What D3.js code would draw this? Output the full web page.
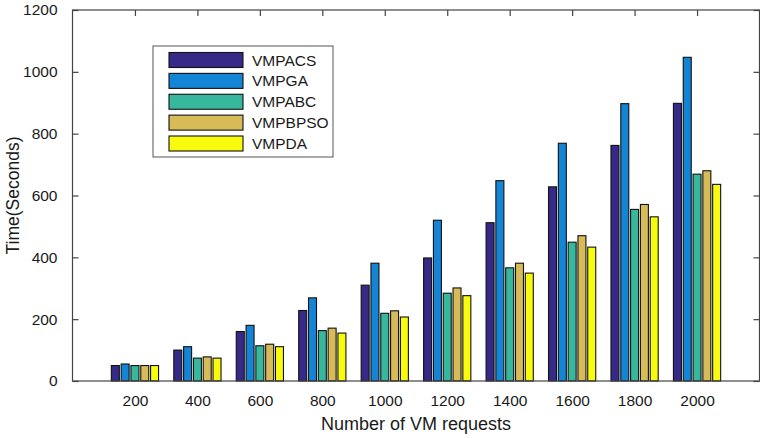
<!DOCTYPE html>
<html>
<head>
<meta charset="utf-8">
<script src="https://cdn.jsdelivr.net/npm/d3@7"></script>
<style>
  body { margin: 0; background: #fff; }
  svg { font-family: "Liberation Sans", Arial, sans-serif; }
</style>
</head>
<body>
<div class="container"></div>
<script>
// data
const categories = [200, 400, 600, 800, 1000, 1200, 1400, 1600, 1800, 2000]
const seriesNames = ["VMPACS", "VMPGA", "VMPABC", "VMPBPSO", "VMPDA"]
const VMPACS = [50, 100, 160, 228, 310, 398, 512, 628, 762, 898]
const VMPGA = [55, 111, 180, 269, 381, 520, 648, 769, 897, 1047]
const VMPABC = [50, 74, 114, 163, 219, 284, 366, 449, 555, 669]
const VMPBPSO = [50, 78, 119, 171, 227, 301, 381, 470, 571, 680]
const VMPDA = [50, 74, 111, 155, 207, 276, 349, 433, 531, 636]
const yTicks = [0, 200, 400, 600, 800, 1000, 1200]
const colors = ["#352a87", "#1484d4", "#37b89c", "#d6bb58", "#f9fb0e"]

const series = [VMPACS, VMPGA, VMPABC, VMPBPSO, VMPDA]

const svg = d3.select(".container").append("svg")
svg.attr("width", 760)
svg.attr("height", 438)

const plotL = 72.5, plotR = 759.5, plotT = 10, plotB = 381

// categories sit at 1..10, x limits 0..11
const x = d3.scaleLinear().domain([0, 11]).range([plotL, plotR])
const y = d3.scaleLinear().domain([0, 1200]).range([plotB, plotT])

const pitch = 0.157   // spacing between bars inside a group
const barW = 0.128
const axisColor = "#444"
const catIdx = categories.map((c, i) => i + 1)

// ticks first so the bars sit over them
const xAxisB = d3.axisBottom(x).tickValues(catIdx).tickSize(-6).tickSizeOuter(0)
    .tickFormat((d, i) => categories[i]).tickPadding(14)
const gxb = svg.append("g").attr("transform", `translate(0,${plotB})`).call(xAxisB)
const xAxisT = d3.axisTop(x).tickValues(catIdx).tickSize(-6).tickSizeOuter(0).tickFormat("")
const gxt = svg.append("g").attr("transform", `translate(0,${plotT})`).call(xAxisT)

const yAxisL = d3.axisLeft(y).tickValues(yTicks).tickSize(-6).tickSizeOuter(0)
    .tickFormat(d3.format("d")).tickPadding(15)
const gyl = svg.append("g").attr("transform", `translate(${plotL},0)`).call(yAxisL)
const yAxisR = d3.axisRight(y).tickValues(yTicks).tickSize(-6).tickSizeOuter(0).tickFormat("")
const gyr = svg.append("g").attr("transform", `translate(${plotR},0)`).call(yAxisR)

;[gxb, gxt, gyl, gyr].forEach(g => {
    g.select(".domain").remove()
    g.selectAll("line").attr("stroke", axisColor).attr("stroke-width", 1.2)
    g.selectAll("text").attr("fill", "#1a1a1a")
        .style("font-family", '"Liberation Sans", Arial, sans-serif').style("font-size", "15.5px")
})

// bars
series.forEach((vals, s) => {
    svg.append("g").selectAll("rect").data(vals)
        .enter()
        .append("rect")
        .attr("x", (d, i) => x(i + 1 + (s - 2) * pitch - barW / 2))
        .attr("width", x(barW) - x(0))
        .attr("y", d => y(d))
        .attr("height", d => y(0) - y(d))
        .attr("fill", colors[s])
        .attr("stroke", "#111")
        .attr("stroke-width", 1.1)
})

// axes box
svg.append("rect")
    .attr("x", plotL).attr("y", plotT)
    .attr("width", plotR - plotL).attr("height", plotB - plotT)
    .attr("fill", "none").attr("stroke", axisColor).attr("stroke-width", 1.2)

// axis titles
svg.append("text")
    .attr("x", (plotL + plotR) / 2).attr("y", 430)
    .attr("text-anchor", "middle")
    .style("font-size", "18px").attr("fill", "#1a1a1a")
    .text("Number of VM requests")

svg.append("text")
    .attr("transform", `translate(19,${(plotT + plotB) / 2}) rotate(-90)`)
    .attr("text-anchor", "middle")
    .style("font-size", "17.5px").attr("fill", "#1a1a1a")
    .text("Time(Seconds)")

// legend
const legend = svg.append("g")
legend.append("rect")
    .attr("x", 153).attr("y", 46).attr("width", 180).attr("height", 111)
    .attr("fill", "#fff").attr("stroke", "#555").attr("stroke-width", 1)

const rowY = d3.scaleLinear().domain([0, 4]).range([60, 143.5])
seriesNames.forEach((name, s) => {
    legend.append("rect")
        .attr("x", 169).attr("y", rowY(s) - 7.5)
        .attr("width", 74).attr("height", 15)
        .attr("fill", colors[s]).attr("stroke", "#111").attr("stroke-width", 1.1)
    legend.append("text")
        .attr("x", 252).attr("y", rowY(s) + 5.5)
        .style("font-size", "15.5px").attr("fill", "#1a1a1a")
        .text(name)
})
</script>
</body>
</html>
